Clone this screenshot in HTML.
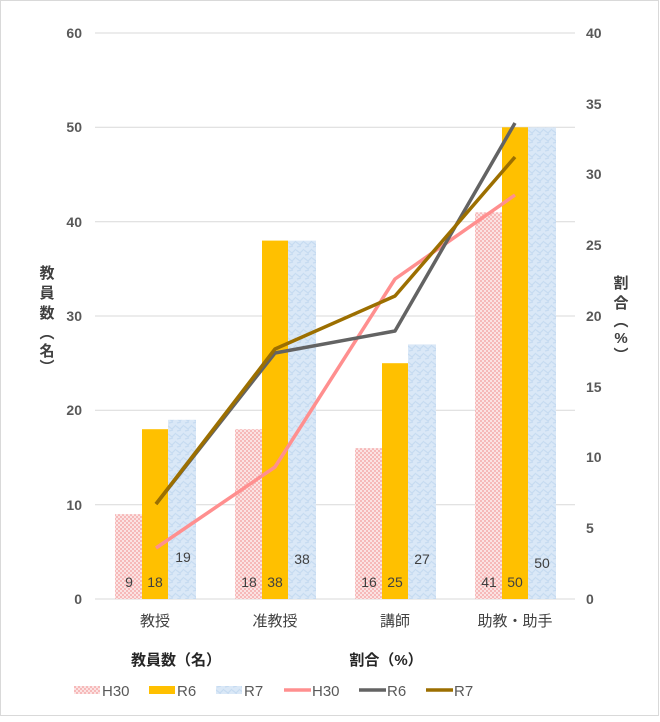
<!DOCTYPE html>
<html><head><meta charset="utf-8"><style>
html,body{margin:0;padding:0;background:#fff}
svg text{font-family:"Liberation Sans","Noto Sans CJK JP",sans-serif}
</style></head><body>
<svg width="660" height="717" viewBox="0 0 660 717" xmlns="http://www.w3.org/2000/svg">
<defs>
<pattern id="ph" width="4" height="4" patternUnits="userSpaceOnUse">
<rect width="4" height="4" fill="#fbe3e3"/><rect width="2" height="2" fill="#f6b9b9"/><rect x="2" y="2" width="2" height="2" fill="#f6b9b9"/>
</pattern>
<pattern id="pb" width="8" height="8" patternUnits="userSpaceOnUse">
<rect width="8" height="8" fill="#dae8f7"/><path d="M0 2 L4 5 L8 1 M1 7 L5 6" stroke="#c6dbf1" stroke-width="1.2" fill="none"/>
</pattern>
</defs>
<rect x="0.5" y="0.5" width="658" height="715" fill="#fff" stroke="#d9d9d9"/>
<g stroke="#d9d9d9" stroke-width="1">
<line x1="95" y1="33" x2="575" y2="33"/><line x1="95" y1="127.3" x2="575" y2="127.3"/>
<line x1="95" y1="221.7" x2="575" y2="221.7"/><line x1="95" y1="316" x2="575" y2="316"/>
<line x1="95" y1="410.3" x2="575" y2="410.3"/><line x1="95" y1="504.7" x2="575" y2="504.7"/>
<line x1="95" y1="599" x2="575" y2="599"/>
</g>
<g font-size="14" fill="#595959" text-anchor="end" font-weight="bold">
<text x="82" y="38">60</text><text x="82" y="132">50</text><text x="82" y="227">40</text>
<text x="82" y="321">30</text><text x="82" y="415">20</text><text x="82" y="510">10</text><text x="82" y="604">0</text>
</g>
<g font-size="14" fill="#595959" text-anchor="start" font-weight="bold">
<text x="586" y="38">40</text><text x="586" y="109">35</text><text x="586" y="179">30</text>
<text x="586" y="250">25</text><text x="586" y="321">20</text><text x="586" y="392">15</text>
<text x="586" y="462">10</text><text x="586" y="533">5</text><text x="586" y="604">0</text>
</g>
<g font-size="15" fill="#404040" font-weight="bold" text-anchor="middle">
<text x="47" y="278">教</text><text x="47" y="298">員</text><text x="47" y="318">数</text>
<text x="47" y="338">︵</text><text x="47" y="356">名</text><text x="47" y="372">︶</text>
<text x="621" y="288">割</text><text x="621" y="308">合</text><text x="621" y="326">︵</text>
<text x="621" y="343">%</text><text x="621" y="360">︶</text>
</g>
<!-- bars -->
<g>
<rect x="115" y="514.1" width="27" height="84.9" fill="url(#ph)"/>
<rect x="142" y="429.2" width="26" height="169.8" fill="#ffc000"/>
<rect x="168" y="419.8" width="28" height="179.2" fill="url(#pb)"/>
<rect x="235" y="429.2" width="27" height="169.8" fill="url(#ph)"/>
<rect x="262" y="240.6" width="26" height="358.4" fill="#ffc000"/>
<rect x="288" y="240.6" width="28" height="358.4" fill="url(#pb)"/>
<rect x="355" y="448.1" width="27" height="150.9" fill="url(#ph)"/>
<rect x="382" y="363.2" width="26" height="235.8" fill="#ffc000"/>
<rect x="408" y="344.4" width="28" height="254.6" fill="url(#pb)"/>
<rect x="475" y="212.3" width="27" height="386.7" fill="url(#ph)"/>
<rect x="502" y="127.3" width="26" height="471.7" fill="#ffc000"/>
<rect x="528" y="127.3" width="28" height="471.7" fill="url(#pb)"/>
</g>
<g font-size="14" fill="#404040" text-anchor="middle">
<text x="129" y="587">9</text><text x="155" y="587">18</text><text x="183" y="562">19</text>
<text x="249" y="587">18</text><text x="275" y="587">38</text><text x="302" y="564">38</text>
<text x="369" y="587">16</text><text x="395" y="587">25</text><text x="422" y="564">27</text>
<text x="489" y="587">41</text><text x="515" y="587">50</text><text x="542" y="568">50</text>
</g>
<!-- lines -->
<polyline points="156,548 275,467 395,279 515,195" fill="none" stroke="#ff8f8f" stroke-width="3.5" stroke-linejoin="round"/>
<polyline points="156,504 275,353 395,331 515,123" fill="none" stroke="#636363" stroke-width="3.5" stroke-linejoin="round"/>
<polyline points="156,504 275,349 395,296 515,157" fill="none" stroke="#9c6f00" stroke-width="3.5" stroke-linejoin="round"/>
<g font-size="15" fill="#404040" text-anchor="middle">
<text x="155" y="626">教授</text><text x="275" y="626">准教授</text><text x="395" y="626">講師</text><text x="515" y="626">助教・助手</text>
</g>
<g font-size="15" fill="#262626" font-weight="bold" text-anchor="middle">
<text x="176" y="665">教員数（名）</text><text x="386" y="665">割合（%）</text>
</g>
<g font-size="15" fill="#595959">
<rect x="74" y="686" width="26" height="8" fill="url(#ph)"/><text x="102" y="696">H30</text>
<rect x="149" y="686" width="26" height="8" fill="#ffc000"/><text x="177" y="696">R6</text>
<rect x="216" y="686" width="26" height="8" fill="url(#pb)"/><text x="244" y="696">R7</text>
<line x1="284" y1="690" x2="311" y2="690" stroke="#ff8f8f" stroke-width="3.5"/><text x="312" y="696">H30</text>
<line x1="359" y1="690" x2="386" y2="690" stroke="#636363" stroke-width="3.5"/><text x="387" y="696">R6</text>
<line x1="426" y1="690" x2="453" y2="690" stroke="#9c6f00" stroke-width="3.5"/><text x="454" y="696">R7</text>
</g>
</svg>
</body></html>
